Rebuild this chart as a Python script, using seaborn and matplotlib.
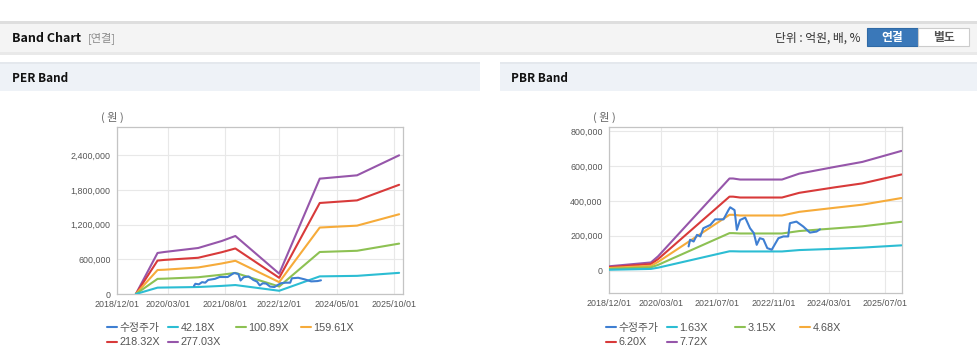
import matplotlib
matplotlib.use("Agg")
import matplotlib.pyplot as plt
import matplotlib.dates as mdates
from matplotlib.patches import Rectangle
from matplotlib.ticker import FuncFormatter
import pandas as pd
import seaborn as sns

sns.set_style("white")
plt.rcParams['font.family'] = ['Liberation Sans', 'Noto Sans CJK KR', 'DejaVu Sans']
KR = ['Noto Sans CJK KR', 'DejaVu Sans']

# ---------------- data ----------------
price_label = "수정주가"
price_dates = ["2020-10-24", "2020-11-06", "2020-12-07", "2021-01-05", "2021-02-03", "2021-03-01",
               "2021-05-01", "2021-06-12", "2021-08-24", "2021-10-06", "2021-10-21", "2021-11-28",
               "2021-12-18", "2022-01-15", "2022-03-01", "2022-04-12", "2022-05-15", "2022-06-09",
               "2022-07-06", "2022-08-06", "2022-09-09", "2022-10-18", "2022-12-15", "2023-01-27",
               "2023-03-10", "2023-03-25", "2023-05-21", "2023-07-19", "2023-09-15", "2023-11-12",
               "2023-12-12"]
price_values = [139000, 177000, 167000, 205000, 196000, 243000,
                262000, 294000, 294000, 347000, 363000, 347000,
                234000, 290000, 304000, 243000, 215000, 148000,
                186000, 180000, 129000, 120000, 186000, 196000,
                196000, 272000, 281000, 253000, 218000, 224000,
                237000]

per_labels = ["42.18X", "100.89X", "159.61X", "218.32X", "277.03X"]
per_dates = ["2019-05-20", "2019-12-01", "2020-02-01", "2020-12-01", "2021-07-01",
             "2021-11-01", "2022-12-01", "2023-12-01", "2024-11-01", "2025-11-15"]
per_42 = [0, 110000, 112000, 121000, 140000, 155000, 56000, 305000, 314000, 366000]
per_100 = [0, 262000, 265000, 290000, 334000, 365000, 130000, 727000, 748000, 872000]
per_159 = [0, 415000, 420000, 459000, 528000, 575000, 205000, 1150000, 1183000, 1380000]
per_218 = [0, 578000, 590000, 627000, 723000, 788000, 280000, 1575000, 1620000, 1890000]
per_277 = [0, 710000, 727000, 796000, 917000, 1004000, 352000, 1996000, 2054000, 2400000]
per_ticks = ["2018-12-01", "2020-03-01", "2021-08-01", "2022-12-01", "2024-05-01", "2025-10-01"]

pbr_labels = ["1.63X", "3.15X", "4.68X", "6.20X", "7.72X"]
pbr_dates = ["2018-12-01", "2019-12-01", "2020-02-01", "2021-10-15", "2021-11-15", "2022-01-15",
             "2023-01-15", "2023-06-15", "2024-04-15", "2024-12-15", "2025-11-20"]
pbr_163 = [5000, 10000, 17000, 111000, 111000, 110000, 110000, 118000, 125000, 132000, 145000]
pbr_315 = [10000, 19000, 33000, 215000, 215000, 213000, 213000, 227000, 242000, 254000, 280000]
pbr_468 = [15000, 28000, 50000, 320000, 320000, 316000, 316000, 337000, 360000, 378000, 416000]
pbr_620 = [20000, 38000, 66000, 424000, 424000, 419000, 419000, 446000, 477000, 500000, 551000]
pbr_772 = [25000, 47000, 82000, 528000, 528000, 522000, 522000, 556000, 594000, 623000, 686000]
pbr_ticks = ["2018-12-01", "2020-03-01", "2021-07-01", "2022-11-01", "2024-03-01", "2025-07-01"]

colors = ["#3f7fd2", "#2cbdd3", "#8dc153", "#f6ab3a", "#d83a3a", "#9656aa"]

W, H = 978, 361
fig = plt.figure(figsize=(W / 100, H / 100), dpi=100)
fig.patch.set_facecolor("white")


def rect(x0, y0, x1, y1, **kw):
    fig.add_artist(Rectangle((x0 / W, 1 - y1 / H), (x1 - x0) / W, (y1 - y0) / H,
                             transform=fig.transFigure, **kw))


def ftext(x, y, s, **kw):
    fig.text(x / W, 1 - y / H, s, **kw)


# header bar
rect(0, 52, W, 55, facecolor="#e9e9e9", edgecolor="none")
rect(0, 22, W, 52, facecolor="#f4f4f4", edgecolor="none")
rect(0, 21, W, 23.5, facecolor="#dedede", edgecolor="none")
ftext(12, 38, "Band Chart", fontsize=9, fontweight="bold", color="#111", va="center", family=KR)
ftext(88, 38, "[연결]", fontsize=8, color="#8a8a8a", va="center", family=KR)
ftext(861, 38, "단위 : 억원, 배, %", fontsize=8.5, color="#333", va="center", ha="right", family=KR)
rect(867, 28, 918, 46, facecolor="#3a78b9", edgecolor="#2f6aa6", linewidth=0.8)
rect(918, 28, 969, 46, facecolor="white", edgecolor="#cccccc", linewidth=0.8)
ftext(892.5, 37, "연결", fontsize=8.5, color="white", fontweight="bold", ha="center", va="center", family=KR)
ftext(943.5, 37, "별도", fontsize=8.5, color="#555", fontweight="bold", ha="center", va="center", family=KR)

# section headers
rect(0, 62, 480, 91, facecolor="#eef2f7", edgecolor="none")
rect(0, 62, 480, 64, facecolor="#e4e8ed", edgecolor="none")
rect(500, 62, W, 91, facecolor="#eef2f7", edgecolor="none")
rect(500, 62, W, 64, facecolor="#e4e8ed", edgecolor="none")
ftext(12, 78, "PER Band", fontsize=8.5, fontweight="bold", color="#111", va="center", family=KR)
ftext(511, 78, "PBR Band", fontsize=8.5, fontweight="bold", color="#111", va="center", family=KR)

LEG_COLS = [0, 61, 129, 194]


def make_panel(box, band_dates, bands, band_labels, ticks, xlim, ylim, yticks, unit_xy, leg_xy):
    x0, y0, x1, y1 = box
    ax = fig.add_axes([x0 / W, 1 - y1 / H, (x1 - x0) / W, (y1 - y0) / H])
    ax.set_facecolor("white")
    bd = pd.to_datetime(band_dates)
    pdts = pd.to_datetime(price_dates)
    sns.lineplot(x=pdts, y=price_values, ax=ax, color=colors[0], linewidth=1.5,
                 label=price_label, zorder=6)
    for i, (vals, lab) in enumerate(zip(bands, band_labels)):
        sns.lineplot(x=bd, y=vals, ax=ax, color=colors[i + 1], linewidth=1.5,
                     label=lab, zorder=5 - i * 0.1)
    ax.set_xlim(pd.Timestamp(xlim[0]), pd.Timestamp(xlim[1]))
    ax.set_ylim(*ylim)
    ax.set_xticks(pd.to_datetime(ticks))
    ax.xaxis.set_major_formatter(mdates.DateFormatter("%Y/%m/%d"))
    ax.set_yticks(yticks)
    ax.yaxis.set_major_formatter(FuncFormatter(lambda v, p: f"{int(v):,}"))
    ax.tick_params(axis="both", labelsize=6.4, colors="#c0c0c0", labelcolor="#555",
                   length=3, width=0.8, direction="out", pad=1.5)
    ax.tick_params(axis="x", pad=1)
    ax.grid(True, color="#e8e8e8", linewidth=0.8)
    for s in ax.spines.values():
        s.set_color("#c4c4c4")
        s.set_linewidth(0.9)
    ax.set_xlabel("")
    ax.set_ylabel("")
    h, l = ax.get_legend_handles_labels()
    ax.get_legend().remove()
    # legend laid out row-wise in fixed columns
    groups = [[0, 4], [1, 5], [2], [3]]
    for off, g in zip(LEG_COLS, groups):
        leg = fig.legend([h[k] for k in g], [l[k] for k in g], loc="upper left",
                         bbox_to_anchor=((leg_xy[0] + off) / W, 1 - leg_xy[1] / H),
                         ncol=1, frameon=False, fontsize=7.8, handlelength=0.9,
                         handletextpad=0.25, borderaxespad=0, borderpad=0, labelspacing=0.4)
        for t in leg.get_texts():
            t.set_color("#555")
    ftext(unit_xy[0], unit_xy[1], "( 원 )", fontsize=8, color="#666", ha="center", va="center",
          family=KR)
    return ax


make_panel((117, 127, 403, 294), per_dates, [per_42, per_100, per_159, per_218, per_277],
           per_labels, per_ticks, ("2018-12-01", "2025-12-20"), (0, 2890000),
           [0, 600000, 1200000, 1800000, 2400000], (112, 117), (107, 323))

make_panel((609, 127, 902, 293), pbr_dates, [pbr_163, pbr_315, pbr_468, pbr_620, pbr_772],
           pbr_labels, pbr_ticks, ("2018-12-01", "2025-11-25"), (-128000, 823000),
           [0, 200000, 400000, 600000, 800000], (604, 117), (606, 323))

fig.savefig("out.png", dpi=100)
